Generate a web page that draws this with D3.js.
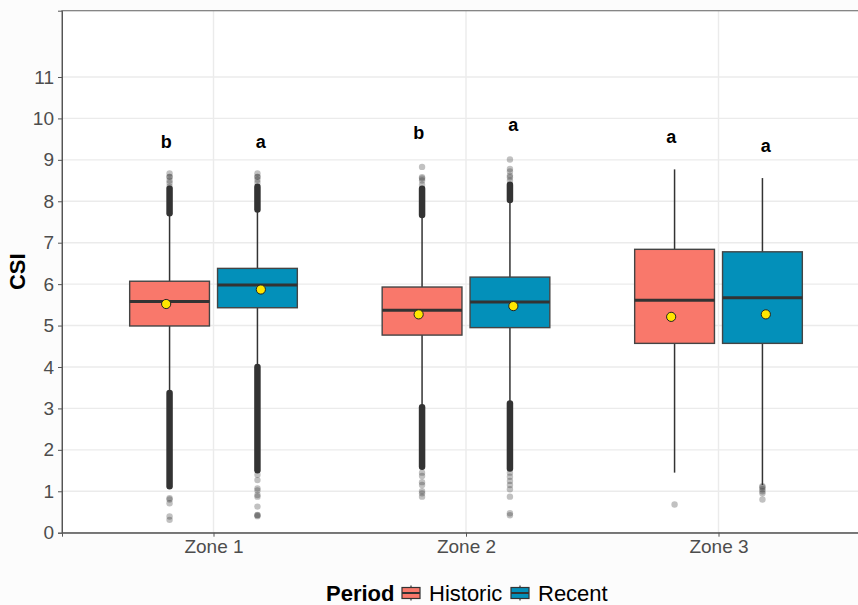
<!DOCTYPE html>
<html>
<head>
<meta charset="utf-8">
<script src="https://cdn.jsdelivr.net/npm/d3@7"></script>
<style>
  body { margin: 0; background: #fcfcfc; }
  svg { display: block; font-family: "Liberation Sans", Arial, sans-serif; }
</style>
</head>
<body>
<svg id="chart" width="858" height="605"></svg>
<script>
// chart values
var zones = ["Zone 1", "Zone 2", "Zone 3"];
var periods = ["Historic", "Recent"];
var periodColors = ["#F9786B", "#0390BA"];
var yTicks = [0, 1, 2, 3, 4, 5, 6, 7, 8, 9, 10, 11];

// [period][zone]
var q1Values = [[4.99, 4.77, 4.57], [5.43, 4.95, 4.57]];
var medianValues = [[5.58, 5.37, 5.61], [5.98, 5.57, 5.67]];
var q3Values = [[6.07, 5.93, 6.84], [6.38, 6.17, 6.78]];
var whiskerLow = [[3.37, 3.03, 1.45], [4.0, 3.12, 1.15]];
var whiskerHigh = [[7.71, 7.67, 8.77], [7.8, 8.03, 8.56]];
var meanValues = [[5.52, 5.27, 5.21], [5.87, 5.47, 5.27]];

// letters from the post hoc test
var letters = [["b", "b", "a"], ["a", "a", "a"]];
var letterY = [[9.45, 9.65, 9.57], [9.45, 9.84, 9.35]];

// runs of overlapping outliers [low, high], per period and zone
var denseOutliers = [
  [[[7.71, 8.3], [1.12, 3.37]], [[7.67, 8.3], [1.59, 3.03]], []],
  [[[7.8, 8.35], [1.51, 4.0]], [[8.03, 8.4], [1.55, 3.12]], []]
];
// single outliers
var sparseOutliers = [
  [[8.35, 8.44, 8.5, 8.59, 8.59, 8.67, 0.83, 0.8, 0.71, 0.39, 0.31],
   [8.4, 8.5, 8.55, 8.58, 8.83, 1.45, 1.37, 1.22, 1.15, 1.0, 0.95, 0.87],
   [0.68]],
  [[8.45, 8.52, 8.59, 8.59, 8.67, 1.4, 1.27, 1.07, 1.02, 0.91, 0.87, 0.63, 0.43, 0.42, 0.4],
   [8.5, 8.58, 8.62, 8.72, 8.78, 9.01, 1.45, 1.35, 1.25, 1.15, 1.05, 0.87, 0.47, 0.42],
   [1.12, 1.1, 1.05, 1.0, 0.95, 0.8]]
];

var svg = d3.select("#chart");

var panelLeft = 62, panelRight = 870, panelTop = 10.7, panelBottom = 532.7;

var xScale = d3.scalePoint().domain(zones).range([panelLeft, panelRight]).padding(0.6);
var step = xScale.step();
var yScale = d3.scaleLinear().domain([0, 12.6]).range([panelBottom, panelTop]);

var boxOffset = 0.174 * step;
var boxWidth = 0.316 * step;
var pointOffset = 0.1875 * step;

function boxX(p, z) { return xScale(zones[z]) + (p == 0 ? -boxOffset : boxOffset); }
function pointX(p, z) { return xScale(zones[z]) + (p == 0 ? -pointOffset : pointOffset); }

// panel
svg.append("rect")
  .attr("x", panelLeft).attr("y", panelTop)
  .attr("width", panelRight - panelLeft).attr("height", panelBottom - panelTop)
  .style("fill", "#ffffff");

// grid
svg.append("g").selectAll("line").data(yTicks).enter().append("line")
  .attr("x1", panelLeft).attr("x2", panelRight)
  .attr("y1", function(d) { return yScale(d); })
  .attr("y2", function(d) { return yScale(d); })
  .style("stroke", "#ebebeb").style("stroke-width", 1.4);

svg.append("g").selectAll("line").data(zones).enter().append("line")
  .attr("x1", function(d) { return xScale(d); })
  .attr("x2", function(d) { return xScale(d); })
  .attr("y1", panelTop).attr("y2", panelBottom)
  .style("stroke", "#ebebeb").style("stroke-width", 1.4);

// border
svg.append("rect")
  .attr("x", panelLeft).attr("y", panelTop)
  .attr("width", panelRight - panelLeft).attr("height", panelBottom - panelTop)
  .style("fill", "none").style("stroke", "#7a7a7a").style("stroke-width", 1.2);

// axes
var yAxis = d3.axisLeft(yScale).tickValues(yTicks).tickSize(4).tickPadding(4);
var yAxisG = svg.append("g").attr("transform", "translate(" + panelLeft + ",0)").call(yAxis);
yAxisG.select(".domain").style("stroke", "#555");
yAxisG.selectAll(".tick line").style("stroke", "#555");
yAxisG.selectAll("text").style("font-size", "19px").style("fill", "#4d4d4d")
  .style("font-family", "Liberation Sans, Arial, sans-serif");

var xAxis = d3.axisBottom(xScale).tickSize(4).tickPadding(3);
var xAxisG = svg.append("g").attr("transform", "translate(0," + panelBottom + ")").call(xAxis);
xAxisG.select(".domain").style("stroke", "#555");
xAxisG.selectAll(".tick line").style("stroke", "#555");
xAxisG.selectAll("text").style("font-size", "19px").style("fill", "#4d4d4d")
  .style("font-family", "Liberation Sans, Arial, sans-serif");

// y title
svg.append("text")
  .attr("transform", "translate(25," + ((panelTop + panelBottom) / 2) + ") rotate(-90)")
  .style("text-anchor", "middle")
  .style("font-size", "22px").style("font-weight", "bold")
  .text("CSI");

// boxes
var plot = svg.append("g");
periods.forEach(function(period, p) {
  zones.forEach(function(zone, z) {
    var cx = boxX(p, z);
    var g = plot.append("g");

    // whiskers
    g.append("line")
      .attr("x1", cx).attr("x2", cx)
      .attr("y1", yScale(q3Values[p][z])).attr("y2", yScale(whiskerHigh[p][z]))
      .style("stroke", "#333").style("stroke-width", 1.5);
    g.append("line")
      .attr("x1", cx).attr("x2", cx)
      .attr("y1", yScale(q1Values[p][z])).attr("y2", yScale(whiskerLow[p][z]))
      .style("stroke", "#333").style("stroke-width", 1.5);

    // dense outliers
    denseOutliers[p][z].forEach(function(run) {
      g.append("line")
        .attr("x1", cx).attr("x2", cx)
        .attr("y1", yScale(run[0])).attr("y2", yScale(run[1]))
        .style("stroke", "#333").style("stroke-width", 6.5)
        .style("stroke-linecap", "round");
    });
    g.selectAll("circle.out").data(sparseOutliers[p][z]).enter().append("circle")
      .attr("class", "out")
      .attr("cx", cx).attr("cy", function(d) { return yScale(d); })
      .attr("r", 3.2)
      .style("fill", "#333").style("opacity", 0.3);

    // box
    g.append("rect")
      .attr("x", cx - boxWidth / 2)
      .attr("width", boxWidth)
      .attr("y", yScale(q3Values[p][z]))
      .attr("height", yScale(q1Values[p][z]) - yScale(q3Values[p][z]))
      .style("fill", periodColors[p])
      .style("stroke", "#444").style("stroke-width", 1.4);

    // median
    g.append("line")
      .attr("x1", cx - boxWidth / 2).attr("x2", cx + boxWidth / 2)
      .attr("y1", yScale(medianValues[p][z])).attr("y2", yScale(medianValues[p][z]))
      .style("stroke", "#333").style("stroke-width", 3);
  });
});

// means and letters
periods.forEach(function(period, p) {
  zones.forEach(function(zone, z) {
    plot.append("circle")
      .attr("cx", pointX(p, z)).attr("cy", yScale(meanValues[p][z]))
      .attr("r", 4.6)
      .style("fill", "#FFE600").style("stroke", "#222").style("stroke-width", 1);

    plot.append("text")
      .attr("x", pointX(p, z)).attr("y", yScale(letterY[p][z]))
      .attr("dy", "0.35em")
      .style("text-anchor", "middle")
      .style("font-size", "18px").style("font-weight", "bold")
      .text(letters[p][z]);
  });
});

// legend
var legend = svg.append("g").attr("transform", "translate(0,593)");
legend.append("text")
  .attr("x", 326).attr("dy", "0.35em")
  .style("font-size", "22px").style("font-weight", "bold")
  .text("Period");

var legendX = [402, 511];
periods.forEach(function(period, p) {
  var kx = legendX[p];
  var key = legend.append("g").attr("transform", "translate(" + kx + ",0)");
  key.append("line").attr("x1", 9).attr("x2", 9).attr("y1", -7.5).attr("y2", 7.5)
    .style("stroke", "#333").style("stroke-width", 1.2);
  key.append("rect").attr("x", 0).attr("y", -5.5).attr("width", 18).attr("height", 11)
    .style("fill", periodColors[p]).style("stroke", "#333").style("stroke-width", 1.2);
  key.append("line").attr("x1", 0).attr("x2", 18).attr("y1", 0).attr("y2", 0)
    .style("stroke", "#333").style("stroke-width", 2);
  legend.append("text")
    .attr("x", kx + 27).attr("dy", "0.35em")
    .style("font-size", "22px")
    .text(period);
});
</script>
</body>
</html>
